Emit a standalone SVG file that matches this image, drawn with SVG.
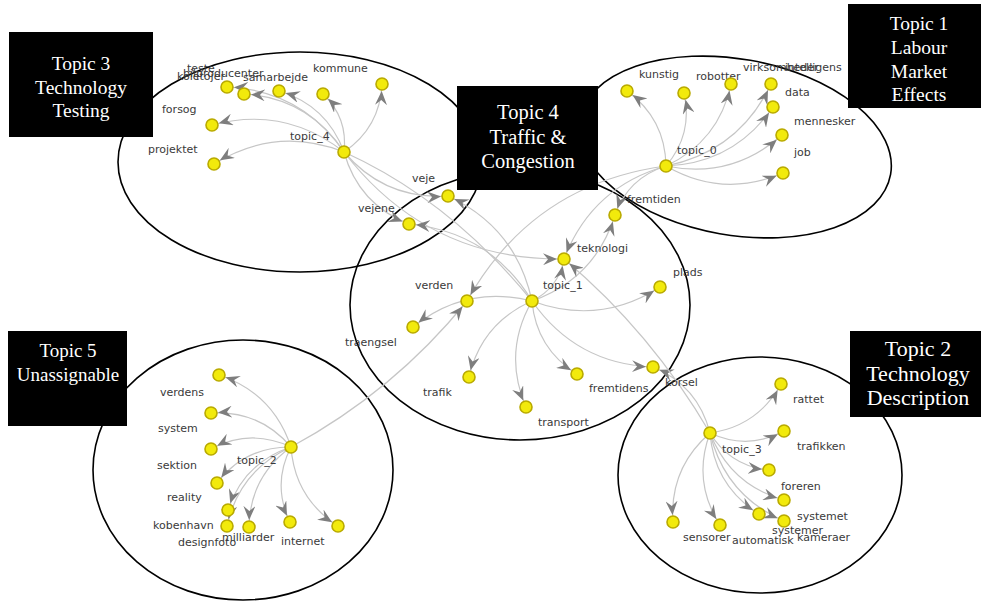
<svg xmlns="http://www.w3.org/2000/svg" width="981" height="602" viewBox="0 0 981 602">
<style>
.ell{fill:none;stroke:#000;stroke-width:1.6}
.e{fill:none;stroke:#c6c6c6;stroke-width:1.2}
.n{fill:#f2ea0c;stroke:#b9aa00;stroke-width:1.6}
.l{font-family:"DejaVu Sans",Verdana,sans-serif;font-size:11px;fill:#3a3a3a}
.box{fill:#000}
.bt{font-family:"Liberation Serif","Times New Roman",serif;fill:#fff;text-anchor:middle}
</style>
<defs>
<marker id="arr" viewBox="0 0 14 12" refX="21" refY="6" markerWidth="14" markerHeight="12" markerUnits="userSpaceOnUse" orient="auto">
<path d="M0,0 L14,6 L0,12 L5,6 Z" fill="#7e7e7e"/>
</marker>
</defs>
<rect width="981" height="602" fill="#fff"/>

<g id="ellipses">
<ellipse class="ell" cx="300" cy="162" rx="182" ry="110"/>
<ellipse class="ell" cx="520" cy="305" rx="170" ry="135"/>
<ellipse class="ell" cx="735" cy="147" rx="158" ry="88" transform="rotate(10 735 147)"/>
<ellipse class="ell" cx="243" cy="470" rx="150" ry="130"/>
<ellipse class="ell" cx="760" cy="475" rx="142" ry="118"/>
</g>

<g id="connectors" class="e" marker-end="url(#arr)">
<path d="M344,152 Q301.75,90.25 227,87"/>
<path d="M344,152 Q308.5,98 244,94"/>
<path d="M344,152 Q326.75,105.25 279,91"/>
<path d="M344,152 Q348,117.75 323,94"/>
<path d="M344,152 Q380,127.5 382,84"/>
<path d="M344,152 Q284.75,105.5 212,125"/>
<path d="M344,152 Q276,125.5 214,164"/>
<path d="M344,152 Q385,200 448,196"/>
<path d="M344,152 Q358.5,204.25 409,224"/>
<path d="M344,152 Q427.25,260.5 564,259"/>
<path d="M344,152 Q450,200 532,301" marker-end="none"/>

<path d="M666,166 Q665.25,118.75 627,91"/>
<path d="M666,166 Q693.25,134 684,93"/>
<path d="M666,166 Q719,141.25 731,84"/>
<path d="M666,166 Q739,151.25 771,84"/>
<path d="M666,166 Q734.25,163.25 773,107"/>
<path d="M666,166 Q731.75,179.5 782,135"/>
<path d="M666,166 Q722.75,198.75 783,173"/>
<path d="M666,166 Q628,178 615,215"/>
<path d="M666,166 Q591.75,187 564,259"/>
<path d="M666,166 Q532.75,183.75 467,301"/>

<path d="M532,301 Q466,284.25 413,327"/>
<path d="M532,301 Q481.5,323.25 469,377"/>
<path d="M532,301 Q502.5,352.5 526,407"/>
<path d="M532,301 Q536.25,348.75 577,374"/>
<path d="M532,301 Q576,364 653,367"/>
<path d="M532,301 Q599.5,326 660,287"/>
<path d="M532,301 Q558.5,288 564,259"/>
<path d="M532,301 Q516,227.5 448,196"/>
<path d="M532,301 Q489.75,231.75 409,224"/>
<path d="M532,301 Q595,278.75 615,215"/>

<path d="M291,447 Q273,393 219,375"/>
<path d="M291,447 Q259.5,410 211,413"/>
<path d="M291,447 Q250.5,428 211,449"/>
<path d="M291,447 Q245,446.5 217,483"/>
<path d="M291,447 Q243.75,462.75 228,510"/>
<path d="M291,447 Q239.25,470.5 227,526"/>
<path d="M291,447 Q250,476.5 249,527"/>
<path d="M291,447 Q271.75,484.25 290,522"/>
<path d="M291,447 Q294.75,498.25 338,526"/>
<path d="M291,447 Q393.6,391.6 467,301"/>

<path d="M710,433 Q757.75,426.25 781,384"/>
<path d="M710,433 Q747.5,450.5 784,431"/>
<path d="M710,433 Q730.25,466.25 769,470"/>
<path d="M710,433 Q730.25,485 784,500"/>
<path d="M710,433 Q714.25,485.75 759,514"/>
<path d="M710,433 Q725,495.5 784,521"/>
<path d="M710,433 Q669.25,468.25 673,522"/>
<path d="M710,433 Q692,481.5 720,525"/>
<path d="M710,433 Q698,385.75 653,367"/>
<path d="M710,433 Q651,332 564,259"/>
</g>

<g id="topic_4"><circle class="n" cx="344" cy="152" r="6"/><text class="l" x="290" y="140">topic_4</text></g>
<g id="teste"><circle class="n" cx="227" cy="87" r="6"/><text class="l" x="187" y="72">teste</text><text class="l" x="177" y="80">koletojer</text></g>
<g id="bilproducenter"><circle class="n" cx="244" cy="94" r="6"/><text class="l" x="183" y="77">bilproducenter</text></g>
<g id="samarbejde"><circle class="n" cx="279" cy="91" r="6"/><text class="l" x="243" y="81">samarbejde</text></g>
<g id="kommune"><circle class="n" cx="323" cy="94" r="6"/><text class="l" x="313" y="72">kommune</text></g>
<g id="n_a5"><circle class="n" cx="382" cy="84" r="6"/></g>
<g id="forsog"><circle class="n" cx="212" cy="125" r="6"/><text class="l" x="162" y="113">forsog</text></g>
<g id="projektet"><circle class="n" cx="214" cy="164" r="6"/><text class="l" x="148" y="153">projektet</text></g>
<g id="veje"><circle class="n" cx="448" cy="196" r="6"/><text class="l" x="412" y="182">veje</text></g>
<g id="vejene"><circle class="n" cx="409" cy="224" r="6"/><text class="l" x="358" y="212">vejene</text></g>

<g id="topic_0"><circle class="n" cx="666" cy="166" r="6"/><text class="l" x="677" y="154">topic_0</text></g>
<g id="kunstig"><circle class="n" cx="627" cy="91" r="6"/><text class="l" x="639" y="78">kunstig</text></g>
<g id="robotter"><circle class="n" cx="684" cy="93" r="6"/><text class="l" x="696" y="80">robotter</text></g>
<g id="virksomheder"><circle class="n" cx="731" cy="84" r="6"/><text class="l" x="743" y="71">virksomheder</text></g>
<g id="intelligens"><circle class="n" cx="771" cy="84" r="6"/><text class="l" x="785" y="71">intelligens</text></g>
<g id="data"><circle class="n" cx="773" cy="107" r="6"/><text class="l" x="785" y="96">data</text></g>
<g id="mennesker"><circle class="n" cx="782" cy="135" r="6"/><text class="l" x="794" y="125">mennesker</text></g>
<g id="job"><circle class="n" cx="783" cy="173" r="6"/><text class="l" x="794" y="156">job</text></g>
<g id="fremtiden"><circle class="n" cx="615" cy="215" r="6"/><text class="l" x="627" y="203">fremtiden</text></g>
<g id="teknologi"><circle class="n" cx="564" cy="259" r="6"/><text class="l" x="577" y="252">teknologi</text></g>

<g id="topic_1"><circle class="n" cx="532" cy="301" r="6"/><text class="l" x="543" y="289">topic_1</text></g>
<g id="verden"><circle class="n" cx="467" cy="301" r="6"/><text class="l" x="415" y="289">verden</text></g>
<g id="traengsel"><circle class="n" cx="413" cy="327" r="6"/><text class="l" x="345" y="346">traengsel</text></g>
<g id="trafik"><circle class="n" cx="469" cy="377" r="6"/><text class="l" x="423" y="396">trafik</text></g>
<g id="transport"><circle class="n" cx="526" cy="407" r="6"/><text class="l" x="538" y="426">transport</text></g>
<g id="fremtidens"><circle class="n" cx="577" cy="374" r="6"/><text class="l" x="589" y="392">fremtidens</text></g>
<g id="korsel"><circle class="n" cx="653" cy="367" r="6"/><text class="l" x="665" y="386">korsel</text></g>
<g id="plads"><circle class="n" cx="660" cy="287" r="6"/><text class="l" x="673" y="276">plads</text></g>

<g id="topic_2"><circle class="n" cx="291" cy="447" r="6"/><text class="l" x="237" y="464">topic_2</text></g>
<g id="verdens"><circle class="n" cx="219" cy="375" r="6"/><text class="l" x="160" y="396">verdens</text></g>
<g id="system"><circle class="n" cx="211" cy="413" r="6"/><text class="l" x="158" y="432">system</text></g>
<g id="sektion"><circle class="n" cx="211" cy="449" r="6"/><text class="l" x="157" y="469">sektion</text></g>
<g id="reality"><circle class="n" cx="217" cy="483" r="6"/><text class="l" x="167" y="501">reality</text></g>
<g id="kobenhavn"><circle class="n" cx="228" cy="510" r="6"/><text class="l" x="153" y="529">kobenhavn</text></g>
<g id="designfoto"><circle class="n" cx="227" cy="526" r="6"/><text class="l" x="178" y="546">designfoto</text></g>
<g id="milliarder"><circle class="n" cx="249" cy="527" r="6"/><text class="l" x="222" y="541">milliarder</text></g>
<g id="internet"><circle class="n" cx="290" cy="522" r="6"/><text class="l" x="281" y="545">internet</text></g>
<g id="n_d9"><circle class="n" cx="338" cy="526" r="6"/></g>

<g id="topic_3"><circle class="n" cx="710" cy="433" r="6"/><text class="l" x="722" y="453">topic_3</text></g>
<g id="rattet"><circle class="n" cx="781" cy="384" r="6"/><text class="l" x="793" y="403">rattet</text></g>
<g id="trafikken"><circle class="n" cx="784" cy="431" r="6"/><text class="l" x="797" y="450">trafikken</text></g>
<g id="foreren"><circle class="n" cx="769" cy="470" r="6"/><text class="l" x="781" y="490">foreren</text></g>
<g id="systemet"><circle class="n" cx="784" cy="500" r="6"/><text class="l" x="797" y="520">systemet</text></g>
<g id="systemer"><circle class="n" cx="759" cy="514" r="6"/><text class="l" x="772" y="534">systemer</text></g>
<g id="kameraer"><circle class="n" cx="784" cy="521" r="6"/><text class="l" x="797" y="541">kameraer</text></g>
<g id="sensorer"><circle class="n" cx="673" cy="522" r="6"/><text class="l" x="683" y="541">sensorer</text></g>
<g id="automatisk"><circle class="n" cx="720" cy="525" r="6"/><text class="l" x="732" y="544">automatisk</text></g>

<g id="box_topic3"><rect class="box" x="9" y="32" width="144" height="105"/>
<text class="bt" x="81" y="70" font-size="19.5">Topic 3</text>
<text class="bt" x="81" y="94" font-size="19.5">Technology</text>
<text class="bt" x="81" y="117" font-size="19.5">Testing</text></g>

<g id="box_topic4"><rect class="box" x="457" y="86" width="141" height="104"/>
<text class="bt" x="528" y="119" font-size="20.5">Topic 4</text>
<text class="bt" x="528" y="144" font-size="20.5">Traffic &amp;</text>
<text class="bt" x="528" y="168" font-size="20.5">Congestion</text></g>

<g id="box_topic1"><rect class="box" x="848" y="4" width="133" height="104"/>
<text class="bt" x="919" y="30" font-size="19.5">Topic 1</text>
<text class="bt" x="919" y="54" font-size="19.5">Labour</text>
<text class="bt" x="919" y="78" font-size="19.5">Market</text>
<text class="bt" x="919" y="101" font-size="19.5">Effects</text></g>

<g id="box_topic2"><rect class="box" x="850" y="331" width="131" height="86"/>
<text class="bt" x="918" y="356" font-size="22">Topic 2</text>
<text class="bt" x="918" y="381" font-size="22">Technology</text>
<text class="bt" x="918" y="405" font-size="22">Description</text></g>

<g id="box_topic5"><rect class="box" x="8" y="331" width="119" height="95"/>
<text class="bt" x="68" y="357" font-size="19">Topic 5</text>
<text class="bt" x="68" y="381" font-size="19">Unassignable</text></g>
</svg>
